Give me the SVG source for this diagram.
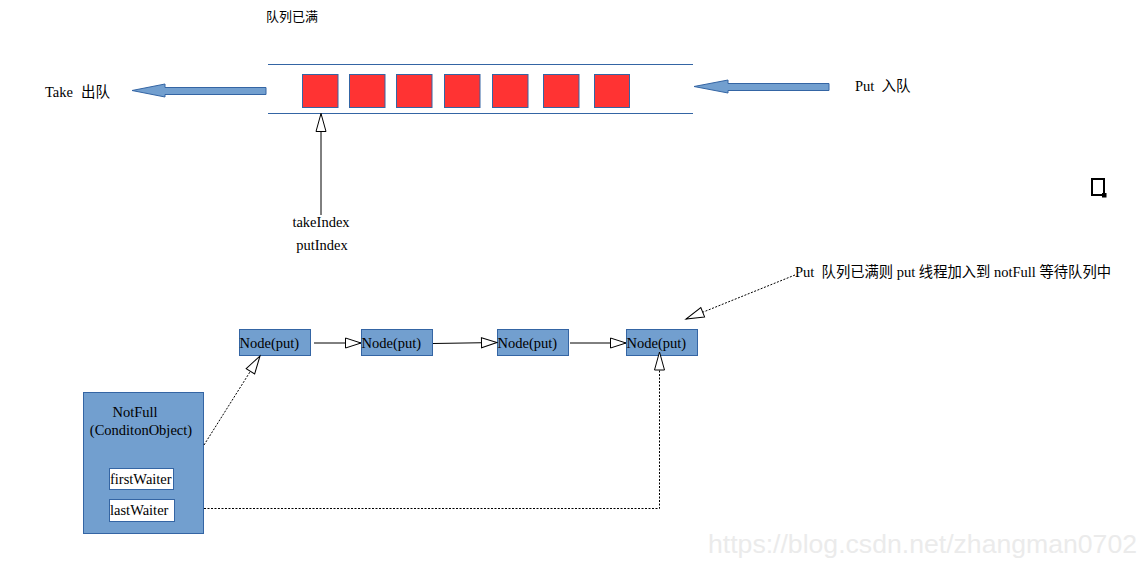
<svg xmlns="http://www.w3.org/2000/svg" width="1147" height="567" viewBox="0 0 1147 567">
<style>
.lat{font-family:"Liberation Serif","Noto Sans CJK SC",serif;font-size:14.5px;fill:#000}
.cjk{font-family:"Noto Sans CJK SC","Liberation Sans",sans-serif;font-size:13px;fill:#000}
.node{fill:#729fcf;stroke:#3465a4;stroke-width:1}
.slot{fill:#ff3333;stroke:#3465a4;stroke-width:1}
.qline{stroke:#3465a4;stroke-width:1;fill:none}
.blk{fill:#729fcf;stroke:#3465a4;stroke-width:1}
.wbox{fill:#fff;stroke:#3465a4;stroke-width:1}
.conn{stroke:#000;stroke-width:1;fill:none}
.dot{stroke:#000;stroke-width:1;fill:none;stroke-dasharray:2 1.5}
.wm{font-family:"Liberation Sans",Arial,sans-serif;font-size:26px;fill:#ebebeb}
</style>
<defs>
<marker id="open" markerUnits="userSpaceOnUse" markerWidth="18" markerHeight="12" refX="15.5" refY="5" orient="auto" viewBox="-1 -1 18 12">
<path d="M0,0 L15.5,5 L0,10 z" fill="#fff" stroke="#000" stroke-width="1"/>
</marker>
<marker id="openL" markerUnits="userSpaceOnUse" markerWidth="21" markerHeight="13" refX="18" refY="5" orient="auto" viewBox="-1 -1 21 13">
<path d="M0,0 L18,5 L0,10 z" fill="#fff" stroke="#000" stroke-width="1"/>
</marker>
</defs>

<g id="title">
<text class="cjk" x="266" y="21">队列已满</text>
</g>

<g id="queue">
<line class="qline" x1="268" y1="64.5" x2="693" y2="64.5"/>
<line class="qline" x1="268" y1="113.5" x2="693" y2="113.5"/>
<rect class="slot" x="302.5" y="74.5" width="35.5" height="33"/>
<rect class="slot" x="349.5" y="74.5" width="35.5" height="33"/>
<rect class="slot" x="396.5" y="74.5" width="35.5" height="33"/>
<rect class="slot" x="444.5" y="74.5" width="35.5" height="33"/>
<rect class="slot" x="492.5" y="74.5" width="35.5" height="33"/>
<rect class="slot" x="543.5" y="74.5" width="35.5" height="33"/>
<rect class="slot" x="594.5" y="74.5" width="35" height="33"/>
</g>

<g id="take">
<polygon class="blk" points="132,90.5 165,84 165,87.5 266,87.5 266,94.5 165,94.5 165,97"/>
<text class="lat" x="45" y="97">Take</text>
<text class="lat" x="81" y="97" font-family="Noto Sans CJK SC,sans-serif" font-size="14.5">出队</text>
</g>

<g id="put">
<polygon class="blk" points="694,86.5 728,80 728,83.5 829,83.5 829,90.5 728,90.5 728,93"/>
<text class="lat" x="855" y="91">Put</text>
<text class="lat" x="881.5" y="91" font-family="Noto Sans CJK SC,sans-serif" font-size="14.5">入队</text>
</g>

<g id="index">
<text class="lat" x="321" y="227" text-anchor="middle">takeIndex</text>
<text class="lat" x="322" y="250" text-anchor="middle">putIndex</text>
</g>

<g id="corner-mark">
<rect x="1092" y="179" width="12" height="16" fill="none" stroke="#000" stroke-width="2"/>
<rect x="1102" y="193" width="4.5" height="4.5" fill="#000"/>
</g>

<g id="note">
<text class="lat" x="795" y="277" font-size="14">Put&#160; <tspan font-family="Noto Sans CJK SC,sans-serif" font-size="14.3">队列已满则</tspan> put <tspan font-family="Noto Sans CJK SC,sans-serif" font-size="14.3">线程加入到</tspan> notFull <tspan font-family="Noto Sans CJK SC,sans-serif" font-size="14.3">等待队列中</tspan></text>
</g>

<g id="node1">
<rect class="node" x="239.5" y="329.5" width="71" height="26"/>
<text class="lat" x="239.5" y="348">Node(put)</text>
</g>
<g id="node2">
<rect class="node" x="361.5" y="329.5" width="71" height="26"/>
<text class="lat" x="361.5" y="348">Node(put)</text>
</g>
<g id="node3">
<rect class="node" x="497.5" y="329.5" width="71" height="26"/>
<text class="lat" x="497.5" y="348">Node(put)</text>
</g>
<g id="node4">
<rect class="node" x="626.5" y="329.5" width="71" height="26"/>
<text class="lat" x="626.5" y="348">Node(put)</text>
</g>

<g id="notfull">
<rect class="node" x="83.5" y="392.5" width="120" height="141"/>
<text class="lat" x="135" y="417" text-anchor="middle">NotFull</text>
<text class="lat" x="141" y="435" text-anchor="middle">(ConditonObject)</text>
<rect class="wbox" x="109.5" y="468.5" width="64" height="21"/>
<text class="lat" x="110" y="484">firstWaiter</text>
<rect class="wbox" x="109.5" y="499.5" width="65" height="22"/>
<text class="lat" x="110" y="515">lastWaiter</text>
</g>

<g id="connectors">
<line class="conn" x1="321" y1="215" x2="321" y2="113.5" marker-end="url(#openL)"/>
<line class="conn" x1="314" y1="343" x2="361" y2="343" marker-end="url(#open)"/>
<line class="conn" x1="433" y1="343.5" x2="497" y2="342.5" marker-end="url(#open)"/>
<line class="conn" x1="570" y1="343" x2="626" y2="343" marker-end="url(#open)"/>
<line class="dot" x1="204" y1="445" x2="260" y2="356" marker-end="url(#openL)"/>
<polyline class="dot" points="204,508.5 659.5,508.5 659.5,352" marker-end="url(#openL)"/>
<line class="dot" x1="795" y1="275" x2="686" y2="319" marker-end="url(#openL)"/>
</g>

<text class="wm" x="708" y="553" textLength="429" lengthAdjust="spacingAndGlyphs">https://blog.csdn.net/zhangman0702</text>
</svg>
